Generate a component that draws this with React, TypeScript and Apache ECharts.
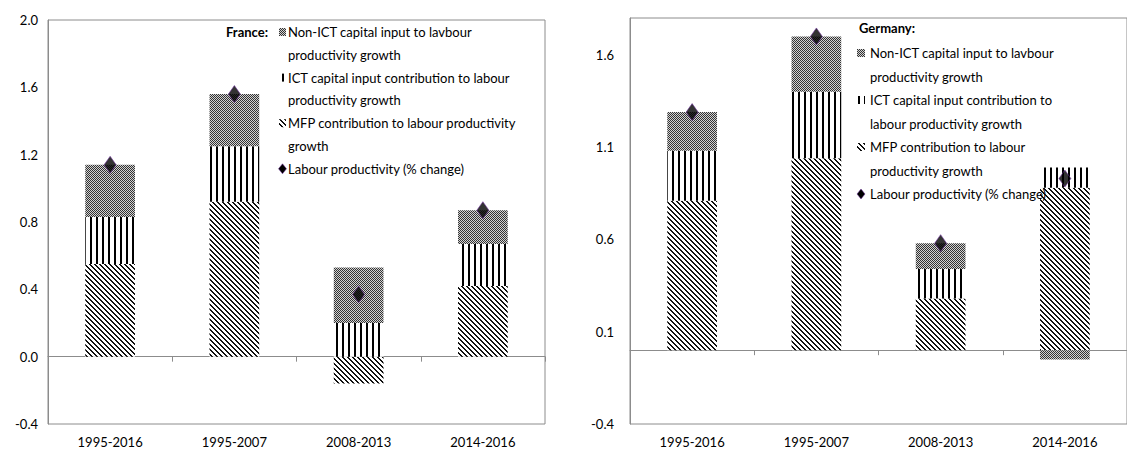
import React, { useEffect, useRef } from "react";
import * as echarts from "echarts";

const categories = ["1995-2016", "1995-2007", "2008-2013", "2014-2016"];

const franceMFP = [0.55, 0.92, -0.16, 0.42];
const franceICT = [0.28, 0.33, 0.2, 0.25];
const franceNonICT = [0.31, 0.31, 0.33, 0.2];
const franceLP = [1.14, 1.56, 0.37, 0.87];

const germanyMFP = [0.81, 1.04, 0.28, 0.88];
const germanyICT = [0.27, 0.36, 0.16, 0.11];
const germanyNonICT = [0.21, 0.3, 0.14, -0.05];
const germanyLP = [1.29, 1.7, 0.58, 0.93];

const seriesNames = [
  "Non-ICT capital input to lavbour productivity growth",
  "ICT capital input contribution to labour productivity growth",
  "MFP contribution to labour productivity growth",
  "Labour productivity (% change)",
];

const franceLegendLines = [
  ["Non-ICT capital input to lavbour", "productivity growth"],
  ["ICT capital input contribution to labour", "productivity growth"],
  ["MFP contribution to labour productivity", "growth"],
  ["Labour productivity (% change)"],
];
const germanyLegendLines = [
  ["Non-ICT capital input to lavbour", "productivity growth"],
  ["ICT capital input contribution to", "labour productivity growth"],
  ["MFP contribution to labour", "productivity growth"],
  ["Labour productivity (% change)"],
];

const FONT = "Lato, 'Liberation Sans', sans-serif";
const AXIS_GRAY = "#8c8c8c";

function makeTile(w: number, h: number, paint: (x: number, y: number) => string) {
  const c = document.createElement("canvas");
  c.width = w;
  c.height = h;
  const ctx = c.getContext("2d") as CanvasRenderingContext2D;
  for (let y = 0; y < h; y++) {
    for (let x = 0; x < w; x++) {
      ctx.fillStyle = paint(x, y);
      ctx.fillRect(x, y, 1, 1);
    }
  }
  return { image: c.toDataURL(), repeat: "repeat", imageWidth: w, imageHeight: h } as any;
}

export default function App() {
  const ref = useRef<HTMLDivElement>(null);
  useEffect(() => {
    if (!ref.current) return;
    const chart = echarts.init(ref.current, undefined, { renderer: "svg" });

    const dotted = makeTile(2, 2, (x, y) => ((x + y) % 2 === 0 ? "#333333" : "#d2d2d2"));
    const vertical = makeTile(6, 1, (x) => (x < 2 ? "#000000" : "#ffffff"));
    const diagonal = makeTile(5, 5, (x, y) =>
      x === y % 5 || x === (y + 1) % 5 ? "#111111" : "#ffffff"
    );
    const fills = [dotted, vertical, diagonal];

    const makeLegend = (
      lines: string[][],
      iconX: number,
      textX: number,
      rowY: number[],
      iconW: number
    ) => {
      const els: any[] = [];
      let r = 0;
      lines.forEach((entry, i) => {
        const y0 = rowY[r];
        if (i < 3) {
          els.push({
            type: "rect",
            z: 100,
            shape: { x: iconX, y: y0 - 4, width: iconW, height: 8 },
            style: { fill: fills[i] },
          });
        } else {
          els.push({
            type: "polygon",
            z: 100,
            shape: {
              points: [
                [iconX + iconW / 2, y0 - 5],
                [iconX + iconW / 2 + 4, y0],
                [iconX + iconW / 2, y0 + 5],
                [iconX + iconW / 2 - 4, y0],
              ],
            },
            style: { fill: "#000", stroke: "#7030a0", lineWidth: 0.5 },
          });
        }
        entry.forEach((t) => {
          els.push({
            type: "text",
            z: 100,
            x: textX,
            y: rowY[r],
            style: {
              text: t,
              fill: "#000",
              fontSize: 13,
              fontFamily: FONT,
              verticalAlign: "middle",
              align: "left",
            },
          });
          r++;
        });
      });
      return els;
    };

    const frRows = [32, 54.8, 77.6, 100.4, 123.2, 146, 168.8];
    const deRows = [53, 76.5, 100, 123.5, 147, 170.5, 194];

    const graphic: any[] = [
      {
        type: "text",
        z: 100,
        x: 268,
        y: 32,
        style: {
          text: "France:",
          fill: "#000",
          fontSize: 13,
          fontWeight: "bold",
          fontFamily: FONT,
          align: "right",
          verticalAlign: "middle",
        },
      },
      ...makeLegend(franceLegendLines, 279, 288, frRows, 7),
      {
        type: "text",
        z: 100,
        x: 859,
        y: 28,
        style: {
          text: "Germany:",
          fill: "#000",
          fontSize: 13,
          fontWeight: "bold",
          fontFamily: FONT,
          align: "left",
          verticalAlign: "middle",
        },
      },
      ...makeLegend(germanyLegendLines, 857, 870, deRows, 8),
    ];

    const zeroAxis = (gridIndex: number) => ({
      gridIndex,
      type: "category",
      data: categories,
      position: "bottom",
      axisLine: { show: true, onZero: true, lineStyle: { color: AXIS_GRAY, width: 1 } },
      axisTick: { show: true, length: 5, lineStyle: { color: AXIS_GRAY } },
      axisLabel: { show: false },
      splitLine: { show: false },
    });
    const labelAxis = (gridIndex: number) => ({
      gridIndex,
      type: "category",
      data: categories,
      position: "bottom",
      axisLine: { show: false, onZero: false },
      axisTick: { show: false },
      axisLabel: { show: true, margin: 11, fontSize: 13, fontFamily: FONT, color: "#000" },
      splitLine: { show: false },
    });

    const barSeries = (
      xi: number,
      yi: number,
      stack: string,
      data: number[][],
      lp: number[]
    ) => [
      ...[2, 1, 0].map((k) => ({
        name: seriesNames[k],
        type: "bar",
        xAxisIndex: xi,
        yAxisIndex: yi,
        stack,
        barWidth: "40%",
        data: data[k],
        itemStyle: { color: fills[k] },
      })),
      {
        name: seriesNames[3],
        type: "scatter",
        xAxisIndex: xi,
        yAxisIndex: yi,
        data: lp,
        symbol: "diamond",
        symbolSize: [12, 17],
        z: 10,
        itemStyle: { color: "#000", borderColor: "#7030a0", borderWidth: 0.7 },
      },
    ];

    chart.setOption({
      animation: false,
      backgroundColor: "#ffffff",
      textStyle: { fontFamily: FONT },
      grid: [
        { left: 48, top: 20, width: 497, height: 404, show: true, borderColor: AXIS_GRAY, borderWidth: 1 },
        { left: 630, top: 18, width: 507, height: 406, show: true, borderColor: AXIS_GRAY, borderWidth: 1 },
      ],
      xAxis: [zeroAxis(0), labelAxis(0), zeroAxis(1), labelAxis(1)],
      yAxis: [
        {
          gridIndex: 0,
          type: "value",
          min: -0.4,
          max: 2.0,
          interval: 0.4,
          axisLine: { show: true, lineStyle: { color: AXIS_GRAY } },
          axisTick: { show: false },
          splitLine: { show: false },
          axisLabel: {
            margin: 10,
            fontSize: 13,
            fontFamily: FONT,
            color: "#000",
            formatter: (v: number) => v.toFixed(1),
          },
        },
        {
          gridIndex: 1,
          type: "value",
          min: -0.4,
          max: 1.8,
          interval: 0.5,
          axisLine: { show: true, lineStyle: { color: AXIS_GRAY } },
          axisTick: { show: false },
          splitLine: { show: false },
          axisLabel: {
            margin: 16,
            fontSize: 13,
            fontFamily: FONT,
            color: "#000",
            showMaxLabel: false,
            formatter: (v: number) => v.toFixed(1),
          },
        },
      ],
      series: [
        ...barSeries(0, 0, "fr", [franceNonICT, franceICT, franceMFP], franceLP),
        ...barSeries(2, 1, "de", [germanyNonICT, germanyICT, germanyMFP], germanyLP),
      ],
      graphic,
    });

    return () => chart.dispose();
  }, []);

  return (
    <div
      ref={ref}
      style={{ position: "absolute", left: 0, top: 0, width: 1127, height: 459, background: "#fff" }}
    />
  );
}
